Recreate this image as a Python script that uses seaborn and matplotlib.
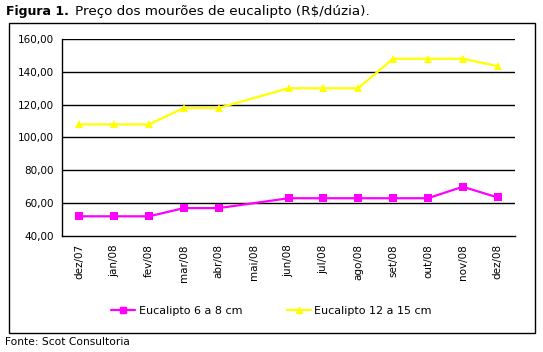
import numpy as np
import pandas as pd
import matplotlib
matplotlib.use("Agg")
import matplotlib.pyplot as plt
import seaborn as sns
from matplotlib.patches import Rectangle

months = ["dez/07", "jan/08", "fev/08", "mar/08", "abr/08", "mai/08", "jun/08",
          "jul/08", "ago/08", "set/08", "out/08", "nov/08", "dez/08"]
# mai/08 has no quote in the source (line just bridges over it)
euc_6_8 = [52, 52, 52, 57, 57, np.nan, 63, 63, 63, 63, 63, 70, 63.5]
euc_12_15 = [108, 108, 108, 118, 118, np.nan, 130, 130, 130, 148, 148, 148, 143.5]
series_names = ["Eucalipto 6 a 8 cm", "Eucalipto 12 a 15 cm"]
y_ticks = [40, 60, 80, 100, 120, 140, 160]

df = pd.DataFrame({
    "pos": list(range(len(months))) * 2,
    "preco": euc_6_8 + euc_12_15,
    "serie": [series_names[0]] * len(months) + [series_names[1]] * len(months),
}).dropna()

sns.set_style("white")
plt.rcParams["font.family"] = ["DejaVu Sans"]
plt.rcParams["text.color"] = "black"
plt.rcParams["xtick.color"] = "black"
plt.rcParams["ytick.color"] = "black"

fig = plt.figure(figsize=(5.43, 3.52), dpi=100)
ax = fig.add_axes([62 / 543, 1 - 236 / 352, (515 - 62) / 543, (236 - 39) / 352])

sns.lineplot(data=df, x="pos", y="preco", hue="serie", style="serie",
             palette={series_names[0]: "#FF00FF", series_names[1]: "#FFFF00"},
             markers={series_names[0]: "s", series_names[1]: "^"},
             dashes=False, linewidth=1.6, markersize=5.5, markeredgewidth=0,
             ax=ax, legend=False)

ax.set_xlim(-0.5, len(months) - 0.5)
ax.set_ylim(40, 160)
ax.set_yticks(y_ticks)
ax.set_yticklabels([f"{v:.2f}".replace(".", ",") for v in y_ticks], fontsize=7.5)
ax.set_xticks(range(len(months)))
ax.set_xticklabels(months, rotation=90, fontsize=7.5)
ax.set_xticks(np.arange(-0.5, len(months)), minor=True)
ax.tick_params(axis="x", which="major", length=0, pad=6)
ax.tick_params(axis="x", which="minor", length=4, width=1, color="black", direction="out")
ax.tick_params(axis="y", length=4, width=1, color="black", direction="out", pad=2)
ax.set_xlabel("")
ax.set_ylabel("")

for v in y_ticks[1:]:
    ax.axhline(v, color="black", linewidth=1, zorder=0)
for s in ["top", "right"]:
    ax.spines[s].set_visible(False)
for s in ["left", "bottom"]:
    ax.spines[s].set_color("black")
    ax.spines[s].set_linewidth(1)

# legend
handles = [plt.Line2D([], [], color="#FF00FF", marker="s", markersize=4, linewidth=1.6),
           plt.Line2D([], [], color="#FFFF00", marker="^", markersize=4, linewidth=1.6)]
fig.legend(handles, series_names, loc="center", bbox_to_anchor=(0.5, 1 - 311 / 352),
           ncol=2, frameon=False, fontsize=8, handlelength=2.2, columnspacing=4,
           handletextpad=0.3)

# outer frame
fig.patches.append(Rectangle((9 / 543, 1 - 333 / 352), (535 - 9) / 543, (333 - 23) / 352,
                             transform=fig.transFigure, fill=False,
                             edgecolor="black", linewidth=1))

fig.text(6 / 543, 1 - 11 / 352, "Figura 1.", fontsize=9, fontweight="bold", va="center")
fig.text(75 / 543, 1 - 11 / 352, "Preço dos mourões de eucalipto (R$/dúzia).",
         fontsize=9.7, va="center")
fig.text(5 / 543, 1 - 342 / 352, "Fonte: Scot Consultoria", fontsize=7.7, va="center")

fig.savefig("out.png", dpi=100)
